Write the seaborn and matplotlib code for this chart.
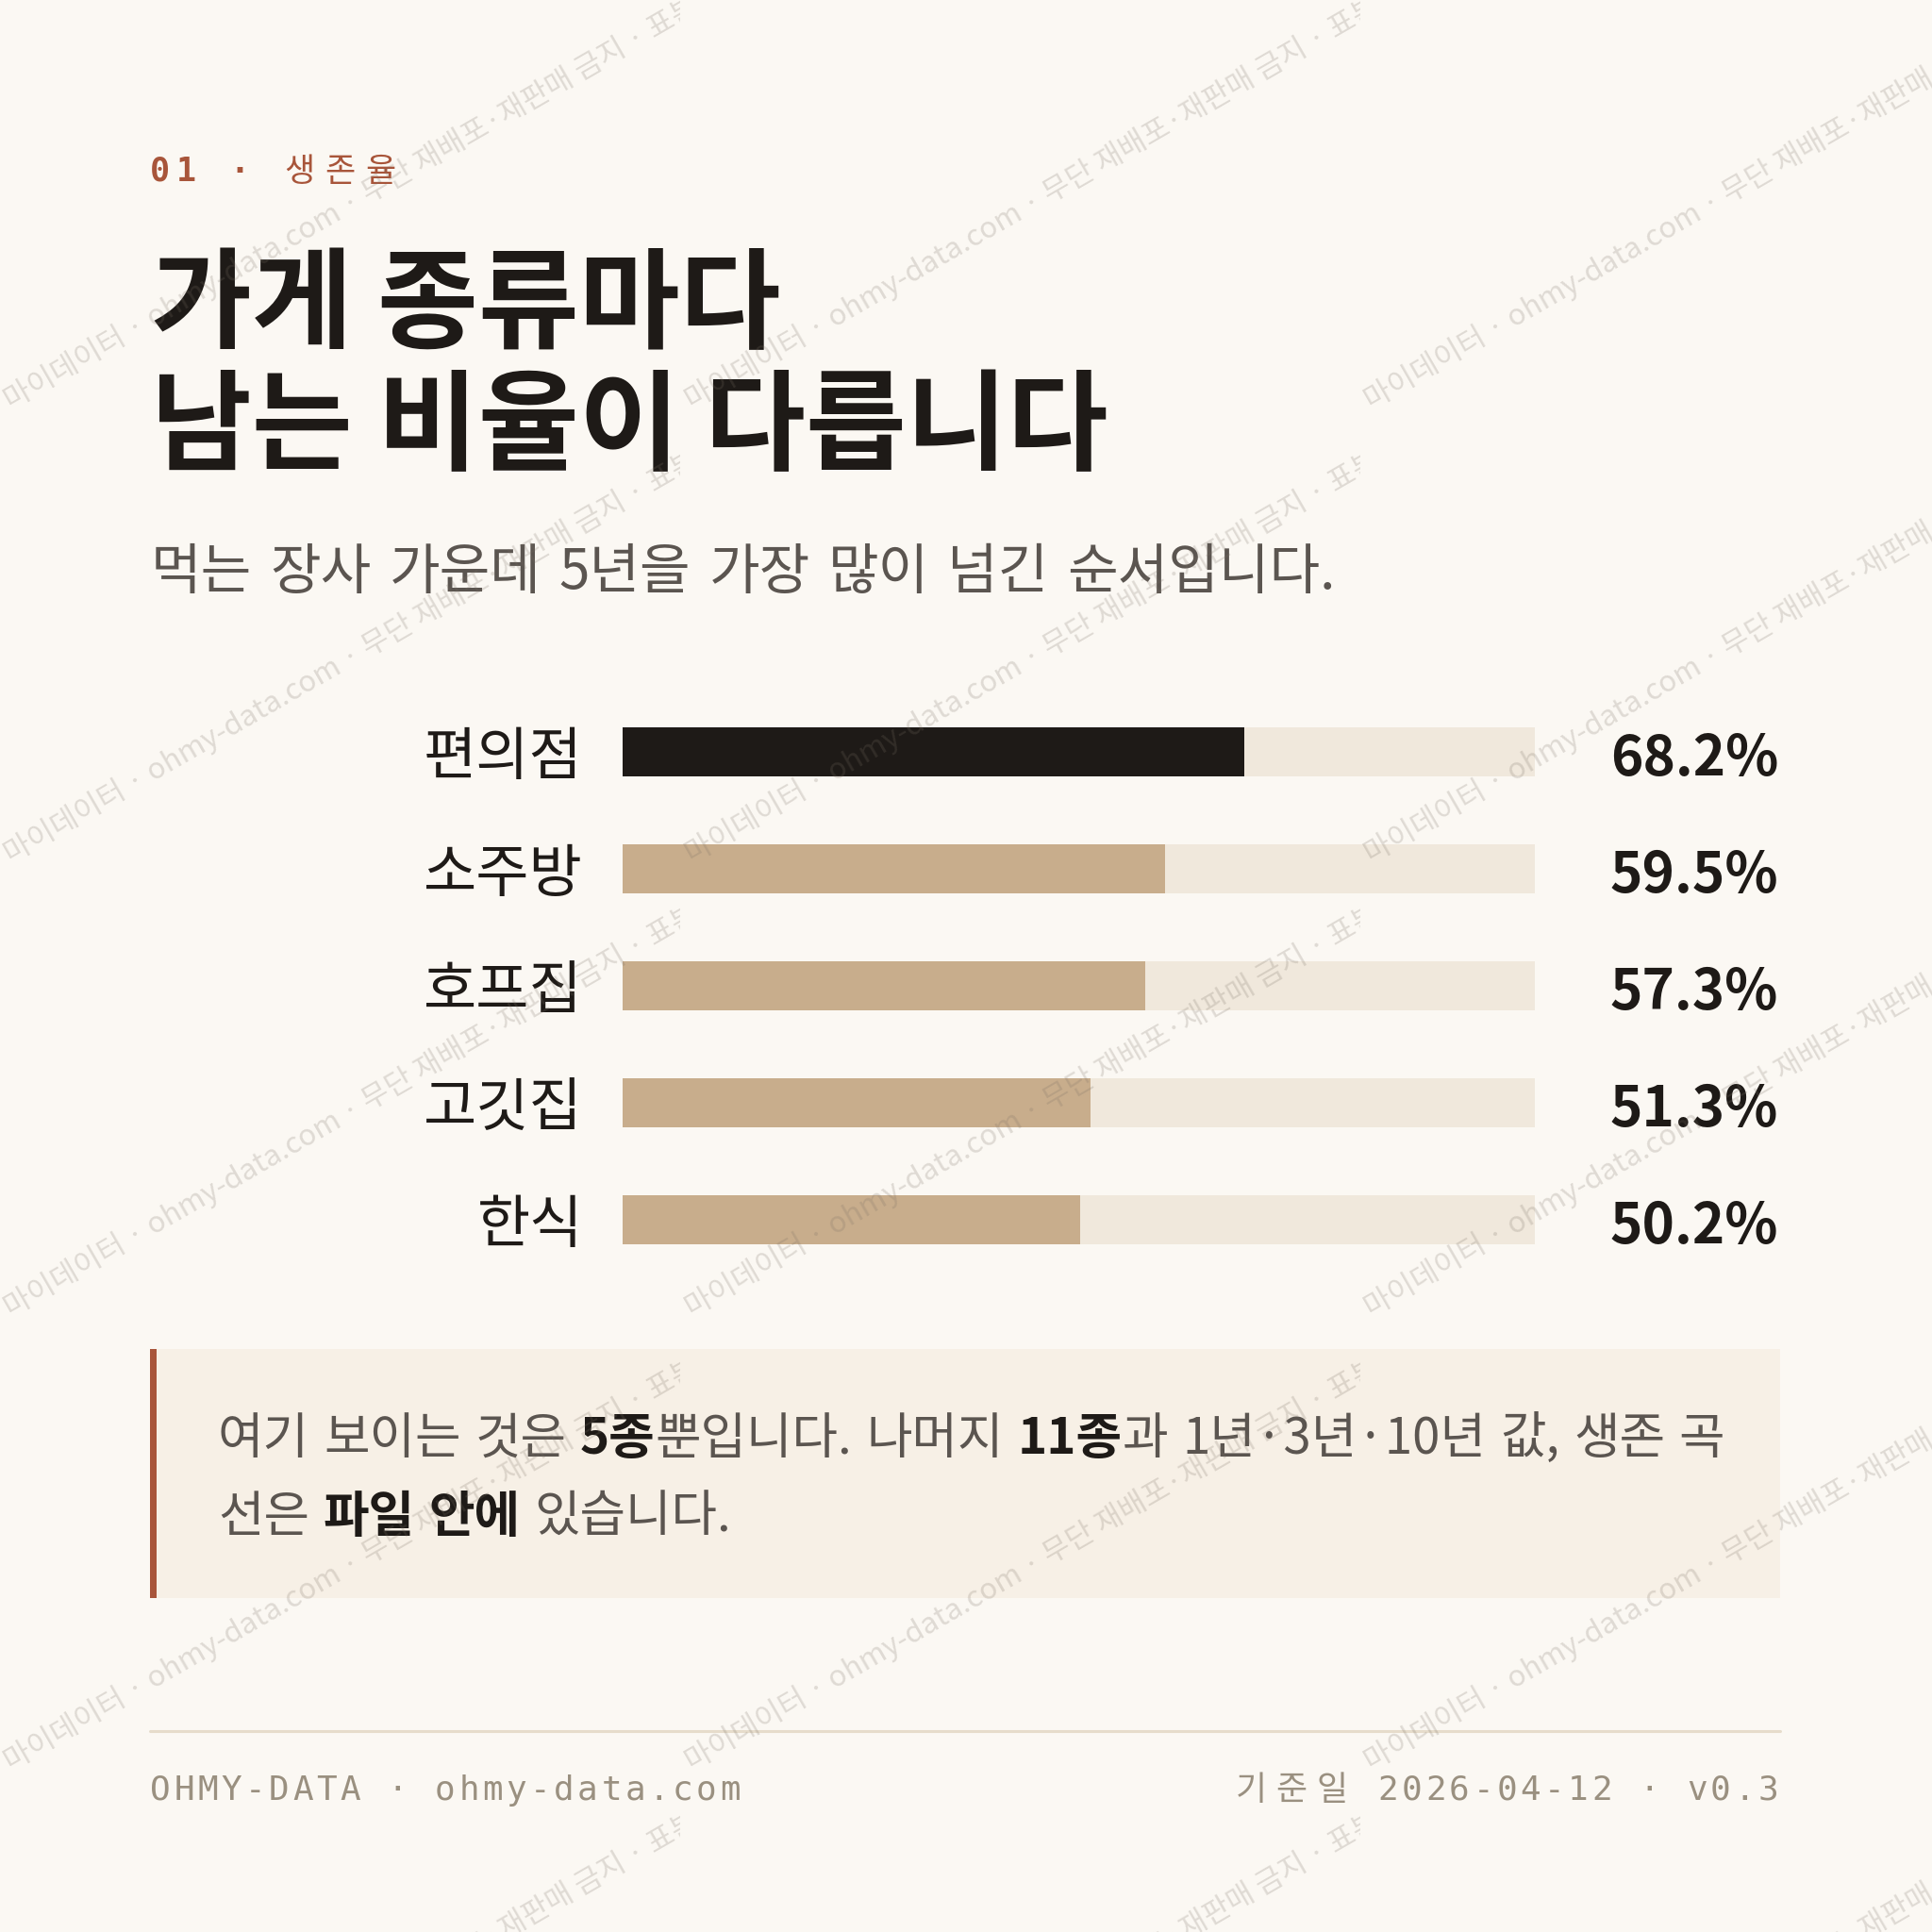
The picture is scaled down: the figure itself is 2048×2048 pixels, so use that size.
import numpy as np
import pandas as pd
import matplotlib
matplotlib.use('Agg')
import matplotlib.pyplot as plt
from matplotlib.patches import Rectangle
from matplotlib.transforms import Bbox, TransformedBbox, blended_transform_factory
import seaborn as sns

# data
categories = ['편의점', '소주방', '호프집', '고깃집', '한식']
survival_5y = [68.2, 59.5, 57.3, 51.3, 50.2]
scale_max = [100, 100, 100, 100, 100]

kicker = '01 · 생존율'
title_lines = ['가게 종류마다', '남는 비율이 다릅니다']
subtitle = '먹는 장사 가운데 5년을 가장 많이 넘긴 순서입니다.'
note_line1 = [('여기 보이는 것은 ', False), ('5종', True), ('뿐입니다. 나머지 ', False),
              ('11종', True), ('과 1년·3년·10년 값, 생존 곡', False)]
note_line2 = [('선은 ', False), ('파일 안에', True), (' 있습니다.', False)]
footer_left = 'OHMY-DATA · ohmy-data.com'
footer_right = '기준일 2026-04-12 · v0.3'
watermark = '· 마이데이터 · ohmy-data.com · 무단 재배포·재판매 금지 · 표본 데이터'

BG = '#FBF8F3'
DARK = '#1E1A17'
TAN = '#C8AD8C'
TRACK = '#F0E8DC'
RUST = '#A8553A'
GRAY = '#5B5550'
FOOT = '#9A9080'
NOTE_BG = '#F7F0E6'

sns.set_theme(style='white')
KR = ['Noto Sans CJK KR', 'DejaVu Sans']
MONO = ['DejaVu Sans Mono', 'Noto Sans CJK KR']
plt.rcParams['font.family'] = KR

W = 2048
def fx(p): return p / W
def fy(p): return 1 - p / W
def pt(p): return p * 72 / 200

fig = plt.figure(figsize=(10.24, 10.24), dpi=200, facecolor=BG)
renderer = fig.canvas.get_renderer()


def spaced(x, y, s, size, track, color, hangul_adv, align='left', bold_ascii=False):
    # letter-spaced mono text, one glyph per cell
    adv = [hangul_adv if ord(c) >= 0x1100 else 0.602 * size + track for c in s]
    total = sum(adv) - track
    pen = x - total if align == 'right' else x
    for c, a in zip(s, adv):
        if c != ' ':
            w = 'bold' if (bold_ascii and ord(c) < 0x1100) else 'normal'
            fig.text(fx(pen + (a - track) / 2), fy(y), c, fontsize=pt(size), family=MONO,
                     color=color, ha='center', va='baseline', weight=w)
        pen += a


def width_of(s, size, bold=False):
    t = fig.text(0, 0, s, fontsize=size, weight='bold' if bold else 'normal')
    w = t.get_window_extent(renderer).width
    t.remove()
    return w


def rich_line(x, y, runs, size, extra=0.0, normal_color=GRAY, bold_color=DARK):
    # runs of normal / bold text, words placed one after another
    space_w = width_of('가 가', size) - width_of('가가', size) + extra
    pen = x
    for s, bold in runs:
        parts = s.split(' ')
        for k, word in enumerate(parts):
            if k > 0:
                pen += space_w
            if word:
                t = fig.text(fx(pen), fy(y), word, fontsize=size, ha='left', va='baseline',
                             weight='bold' if bold else 'normal',
                             color=bold_color if bold else normal_color)
                pen += t.get_window_extent(renderer).width


# header
spaced(159, 192, kicker, 35, 7, RUST, 43, bold_ascii=True)
for i, line in enumerate(title_lines):
    fig.text(fx(160), fy(360 + i * 129), line, fontsize=41.8, weight='bold', color=DARK,
             ha='left', va='baseline')
rich_line(160, 624, [(subtitle, False)], 21, extra=6)

# bars
ax = fig.add_axes([fx(660), fy(1355), (1627 - 660) / W, 620 / W])
df = pd.DataFrame({'업종': categories, '생존율': survival_5y, '최대': scale_max})
bar_colors = [DARK] + [TAN] * (len(categories) - 1)
sns.barplot(data=df, x='최대', y='업종', color=TRACK, width=0.42, errorbar=None,
            saturation=1, linewidth=0, ax=ax)
sns.barplot(data=df, x='생존율', y='업종', hue='업종', palette=bar_colors, width=0.42,
            errorbar=None, saturation=1, linewidth=0, legend=False, ax=ax)
ax.set_xlim(0, 100)
ax.set_xticks([])
ax.set_xlabel('')
ax.set_ylabel('')
ax.patch.set_alpha(0)
sns.despine(ax=ax, left=True, bottom=True)
ax.tick_params(axis='y', length=0, pad=pt(42), labelsize=22, labelcolor=DARK)

trans = blended_transform_factory(fig.transFigure, ax.transData)
for i, v in enumerate(survival_5y):
    ax.annotate(f'{v:.1f}%', (fx(1885), i), xycoords=trans, xytext=(0, -2.8),
                textcoords='offset points', ha='right', va='center',
                fontsize=21, weight='bold', color=DARK)

# note box
fig.add_artist(Rectangle((fx(159), fy(1694)), (1887 - 159) / W, (1694 - 1430) / W,
                         transform=fig.transFigure, facecolor=NOTE_BG, edgecolor='none'))
fig.add_artist(Rectangle((fx(159), fy(1694)), 7 / W, (1694 - 1430) / W,
                         transform=fig.transFigure, facecolor=RUST, edgecolor='none'))
rich_line(231, 1541, note_line1, 19, extra=3)
rich_line(231, 1624, note_line2, 19, extra=3)

# footer
fig.add_artist(plt.Line2D([fx(159), fx(1887)], [fy(1835), fy(1835)], transform=fig.transFigure,
                          color='#E6DCCB', lw=1.1))
spaced(159, 1908, footer_left, 36, 3.5, FOOT, 43)
spaced(1885, 1908, footer_right, 36, 3.5, FOOT, 43, align='right')

# watermark tiles
tw, th = 721, 481
for r in range(5):
    for c in range(3):
        x0, y0 = c * tw, r * th
        t = fig.text(fx(x0 - 9), fy(y0 + 447), watermark, fontsize=11.2, rotation=30,
                     rotation_mode='anchor', ha='left', va='baseline', color='#7A7064',
                     alpha=0.22, zorder=10)
        box = Bbox.from_extents(fx(x0), fy(y0 + th), fx(x0 + tw), fy(y0))
        t.set_clip_box(TransformedBbox(box, fig.transFigure))
        t.set_clip_on(True)

fig.savefig('out.png', dpi=200, facecolor=BG)
